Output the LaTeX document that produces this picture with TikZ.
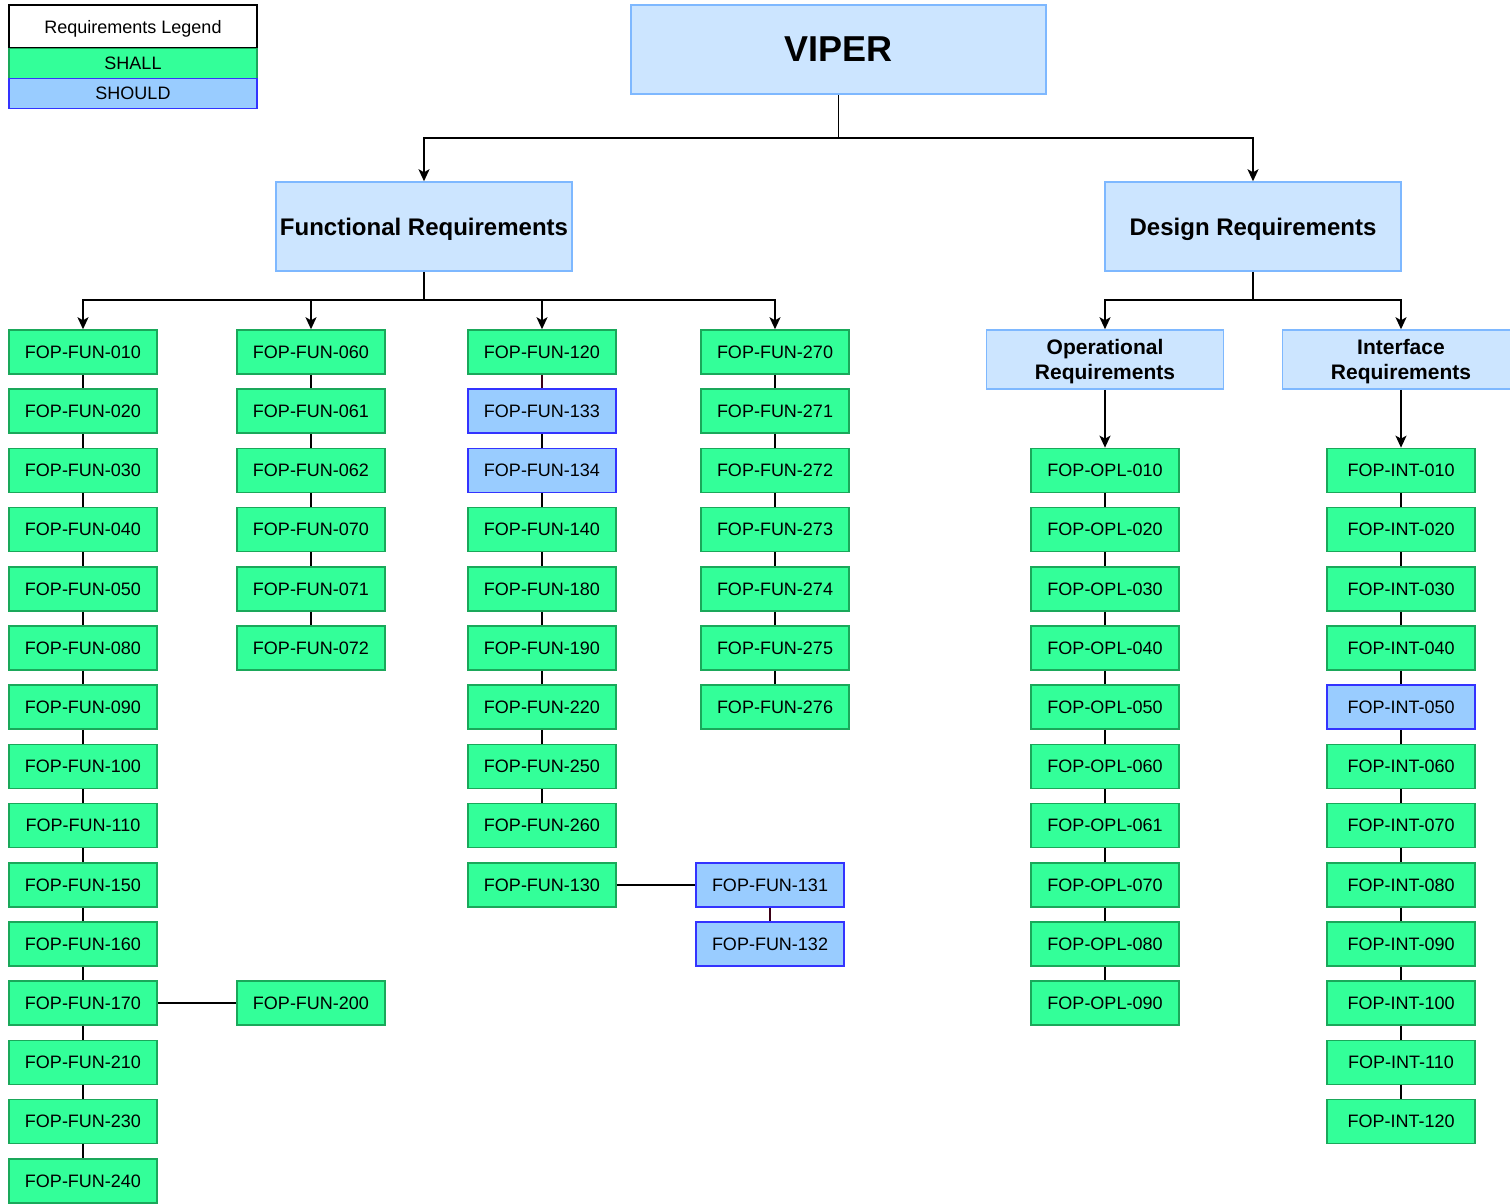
\documentclass[tikz,border=0pt]{standalone}
\usepackage{fontspec}
\setmainfont{Liberation Sans}
\usetikzlibrary{arrows.meta}

\definecolor{shallfill}{HTML}{33FF99}
\definecolor{shalldraw}{HTML}{1AA85A}
\definecolor{shouldfill}{HTML}{99CCFF}
\definecolor{shoulddraw}{HTML}{3333FF}
\definecolor{headfill}{HTML}{CCE5FF}
\definecolor{headdraw}{HTML}{7EB8FF}
\definecolor{linkdark}{HTML}{3A0016}

\tikzset{
  req/.style={rectangle, minimum width=148pt, minimum height=44pt, inner sep=0pt,
    text depth=0pt, line width=1.5pt, font=\fontsize{18}{21.6}\selectfont},
  shall/.style={req, fill=shallfill, draw=shalldraw},
  should/.style={req, fill=shouldfill, draw=shoulddraw},
  head/.style={rectangle, inner sep=0pt, text depth=0pt, fill=headfill, draw=headdraw, line width=1.5pt,
    font=\fontsize{24}{28.8}\selectfont\bfseries},
  subhead/.style={head, minimum width=237pt, minimum height=59pt, align=center,
    font=\fontsize{21}{25.2}\selectfont\bfseries},
  legendrow/.style={rectangle, inner sep=0pt, text depth=0pt, minimum width=248pt, line width=1.5pt,
    font=\fontsize{18}{21.6}\selectfont},
  link/.style={line width=1.7pt, draw=black},
  arr/.style={link, -{Stealth[length=12pt, width=11pt, inset=3pt]}},
}

\begin{document}
\begin{tikzpicture}[x=1pt, y=-1pt]
\useasboundingbox (0,0) rectangle (1510,1203);
\clip (0,0) rectangle (1510,1203);
\fill[white] (0,0) rectangle (1510,1203);

% legend
\node[legendrow, minimum height=43pt, draw=black, fill=white] (legtitle) at (133,26.5) {Requirements Legend};
\node[legendrow, minimum height=30pt, draw=shalldraw, fill=shallfill] (legshall) at (133,63.5) {SHALL};
\node[legendrow, minimum height=30pt, draw=shoulddraw, fill=shouldfill] (legshould) at (133,93.5) {SHOULD};

% top levels
\node[head, minimum width=415pt, minimum height=89pt, font=\fontsize{36}{43}\selectfont\bfseries] (viper) at (838.5,49.5) {VIPER};
\node[head, minimum width=296pt, minimum height=89pt] (func) at (424,226.5) {Functional Requirements};
\node[head, minimum width=296pt, minimum height=89pt] (design) at (1253,226.5) {Design Requirements};
\node[subhead] (ops) at (1105,359.5) {Operational\\Requirements};
\node[subhead] (intf) at (1401,359.5) {Interface\\Requirements};

% functional column 1
\foreach \name/\row in {010/1,020/2,030/3,040/4,050/5,080/6,090/7,100/8,110/9,150/10,160/11,170/12,210/13,230/14,240/15}
  \node[shall] (fun\name) at (83,{352+(\row-1)*59.2}) {FOP-FUN-\name};
% functional column 2
\foreach \name/\row in {060/1,061/2,062/3,070/4,071/5,072/6}
  \node[shall] (fun\name) at (311,{352+(\row-1)*59.2}) {FOP-FUN-\name};
\node[shall] (fun200) at (311,{352+11*59.2}) {FOP-FUN-200};
% functional column 3
\foreach \name/\row in {120/1,140/4,180/5,190/6,220/7,250/8,260/9,130/10}
  \node[shall] (fun\name) at (542,{352+(\row-1)*59.2}) {FOP-FUN-\name};
\foreach \name/\row in {133/2,134/3}
  \node[should] (fun\name) at (542,{352+(\row-1)*59.2}) {FOP-FUN-\name};
\node[should] (fun131) at (770,{352+9*59.2}) {FOP-FUN-131};
\node[should] (fun132) at (770,{352+10*59.2}) {FOP-FUN-132};
% functional column 4
\foreach \name/\row in {270/1,271/2,272/3,273/4,274/5,275/6,276/7}
  \node[shall] (fun\name) at (775,{352+(\row-1)*59.2}) {FOP-FUN-\name};

% operational column
\foreach \name/\row in {010/1,020/2,030/3,040/4,050/5,060/6,061/7,070/8,080/9,090/10}
  \node[shall] (opl\name) at (1105,{470.4+(\row-1)*59.2}) {FOP-OPL-\name};
% interface column
\foreach \name/\row in {010/1,020/2,030/3,040/4,060/6,070/7,080/8,090/9,100/10,110/11,120/12}
  \node[shall] (int\name) at (1401,{470.4+(\row-1)*59.2}) {FOP-INT-\name};
\node[should] (int050) at (1401,{470.4+4*59.2}) {FOP-INT-050};

% branching connectors
\coordinate (vsplit) at (838.5,138);
\coordinate (fsplit) at (424,300);
\coordinate (dsplit) at (1253,300);
\draw[link] (viper) -- (vsplit);
\draw[arr] (vsplit) -| (func);
\draw[arr] (vsplit) -| (design);
\draw[link] (func) -- (fsplit);
\foreach \t in {fun010,fun060,fun120,fun270}
  \draw[arr] (fsplit) -| (\t);
\draw[link] (design) -- (dsplit);
\draw[arr] (dsplit) -| (ops);
\draw[arr] (dsplit) -| (intf);
\draw[arr] (ops) -- (opl010);
\draw[arr] (intf) -- (int010);

% vertical chains
\foreach \a/\b in {010/020,020/030,030/040,040/050,050/080,080/090,090/100,100/110,110/150,150/160,160/170,170/210,210/230,230/240,
                   060/061,061/062,062/070,070/071,071/072,
                   133/134,134/140,140/180,180/190,190/220,220/250,250/260,
                   270/271,271/272,272/273,273/274,274/275,275/276}
  \draw[link] (fun\a) -- (fun\b);
\draw[link, draw=linkdark] (fun120) -- (fun133);
\foreach \a/\b in {010/020,020/030,030/040,040/050,050/060,060/061,061/070,070/080,080/090}
  \draw[link] (opl\a) -- (opl\b);
\foreach \a/\b in {010/020,020/030,030/040,040/050,050/060,060/070,070/080,080/090,090/100,100/110,110/120}
  \draw[link] (int\a) -- (int\b);

% side branches
\draw[link] (fun170) -- (fun200);
\draw[link] (fun130) -- (fun131);
\draw[link, draw=linkdark] (fun131) -- (fun132);
\end{tikzpicture}
\end{document}
